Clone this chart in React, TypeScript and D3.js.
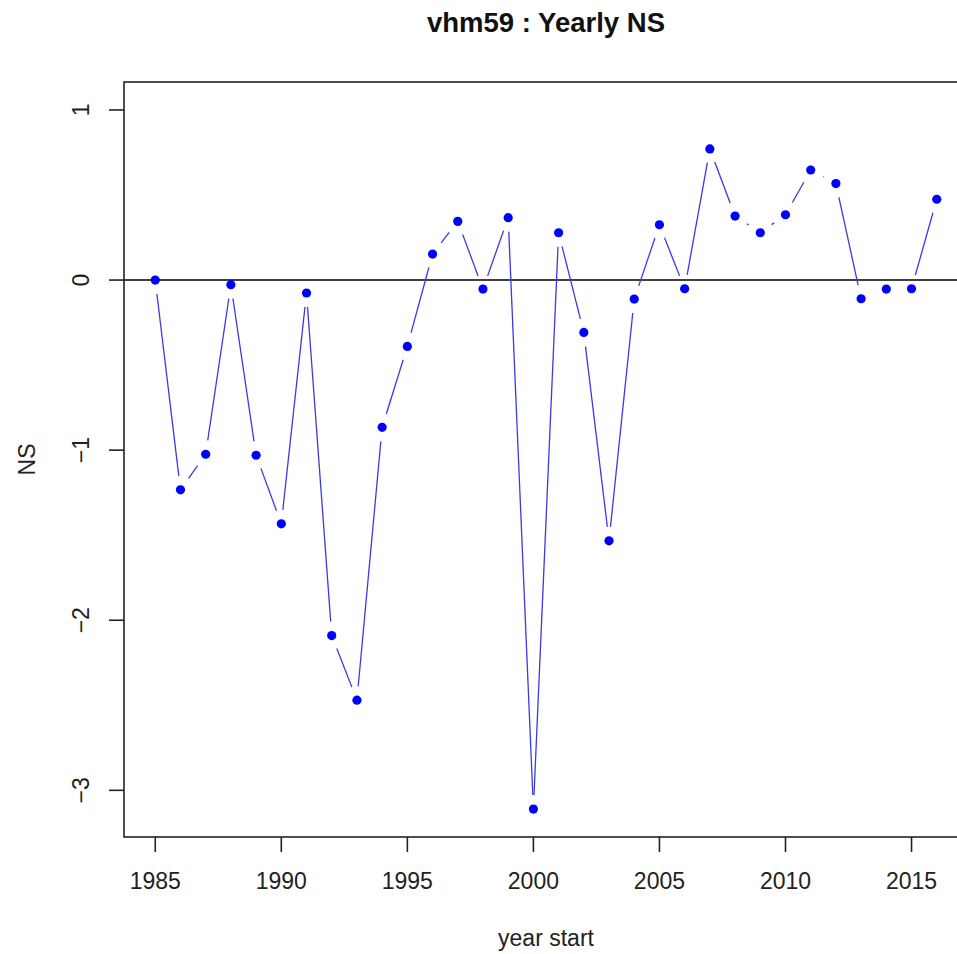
import React from "react";
import * as d3 from "d3";

// Yearly Nash–Sutcliffe efficiency for station vhm59
const years: number[] = [
  1985, 1986, 1987, 1988, 1989, 1990, 1991, 1992, 1993, 1994, 1995,
  1996, 1997, 1998, 1999, 2000, 2001, 2002, 2003, 2004, 2005,
  2006, 2007, 2008, 2009, 2010, 2011, 2012, 2013, 2014, 2015, 2016,
];
const nsValues: number[] = [
  0.0, -1.233, -1.024, -0.027, -1.03, -1.433, -0.076, -2.09, -2.47, -0.866, -0.39,
  0.153, 0.345, -0.053, 0.367, -3.11, 0.278, -0.308, -1.533, -0.112, 0.325,
  -0.051, 0.771, 0.376, 0.278, 0.384, 0.647, 0.567, -0.11, -0.053, -0.051, 0.475,
];
const xTicks: number[] = [1985, 1990, 1995, 2000, 2005, 2010, 2015];
const yTicks: number[] = [-3, -2, -1, 0, 1];

const title = "vhm59 : Yearly NS";
const xLabel = "year start";
const yLabel = "NS";

const W = 957;
const H = 954;
const FONT = "'Liberation Sans', Arial, Helvetica, sans-serif";

const fmtY = (v: number) => (v < 0 ? "\u2212" + Math.abs(v) : String(v));

export default function App() {
  // plot region (R-style 4% padding on both axes)
  const left = 124;
  const right = 968;
  const top = 82;
  const bottom = 837;

  const xMin = d3.min(years)!;
  const xMax = d3.max(years)!;
  const xPad = (xMax - xMin) * 0.04;
  const yLo = d3.min(nsValues)!;
  const yHi = 1;
  const yPad = (yHi - yLo) * 0.04;

  const x = d3.scaleLinear().domain([xMin - xPad, xMax + xPad]).range([left, right]);
  const y = d3.scaleLinear().domain([yLo - yPad, yHi + yPad]).range([bottom, top]);

  const pts = years.map((yr, i) => ({ px: x(yr), py: y(nsValues[i]) }));

  // type = "b": segments leave a gap around each point
  const gap = 14;
  const segments: [number, number][][] = [];
  for (let i = 0; i < pts.length - 1; i++) {
    const a = pts[i];
    const b = pts[i + 1];
    const dx = b.px - a.px;
    const dy = b.py - a.py;
    const len = Math.hypot(dx, dy);
    if (len <= 2 * gap) continue;
    const ux = dx / len;
    const uy = dy / len;
    segments.push([
      [a.px + ux * gap, a.py + uy * gap],
      [b.px - ux * gap, b.py - uy * gap],
    ]);
  }

  const lineGen = d3.line<[number, number]>();

  return (
    <svg
      width={W}
      height={H}
      style={{ position: "absolute", left: 0, top: 0, background: "#fff" }}
      fontFamily={FONT}
    >
      <defs>
        <clipPath id="plotClip">
          <rect x={left} y={top} width={right - left} height={bottom - top} />
        </clipPath>
      </defs>

      {/* title */}
      <text x={(left + right) / 2} y={32} textAnchor="middle" fontSize={27.5} fontWeight="bold" fill="#111">
        {title}
      </text>

      {/* horizontal reference at zero */}
      <line
        x1={left}
        x2={right}
        y1={y(0)}
        y2={y(0)}
        stroke="#000"
        strokeWidth={1.6}
        clipPath="url(#plotClip)"
      />

      {/* connecting segments */}
      <g stroke="#3a3ae6" strokeWidth={1.3} fill="none">
        {segments.map((s, i) => (
          <path key={i} d={lineGen(s) ?? ""} />
        ))}
      </g>

      {/* points */}
      <g fill="#0000ff">
        {pts.map((p, i) => (
          <circle key={i} cx={p.px} cy={p.py} r={4.6} />
        ))}
      </g>

      {/* plot box */}
      <rect
        x={left}
        y={top}
        width={right - left}
        height={bottom - top}
        fill="none"
        stroke="#222"
        strokeWidth={1.6}
      />

      {/* x axis */}
      <g>
        {xTicks.map((t) => (
          <g key={t}>
            <line x1={x(t)} x2={x(t)} y1={bottom} y2={bottom + 15} stroke="#222" strokeWidth={1.6} />
            <text x={x(t)} y={889} textAnchor="middle" fontSize={23} fill="#222">
              {t}
            </text>
          </g>
        ))}
        <text x={(left + right) / 2} y={946} textAnchor="middle" fontSize={23} fill="#222">
          {xLabel}
        </text>
      </g>

      {/* y axis */}
      <g>
        {yTicks.map((t) => (
          <g key={t}>
            <line x1={left - 15} x2={left} y1={y(t)} y2={y(t)} stroke="#222" strokeWidth={1.6} />
            <text
              transform={`translate(89,${y(t)}) rotate(-90)`}
              textAnchor="middle"
              fontSize={23}
              fill="#222"
            >
              {fmtY(t)}
            </text>
          </g>
        ))}
        <text
          transform={`translate(35,${(top + bottom) / 2}) rotate(-90)`}
          textAnchor="middle"
          fontSize={23}
          fill="#222"
        >
          {yLabel}
        </text>
      </g>
    </svg>
  );
}
